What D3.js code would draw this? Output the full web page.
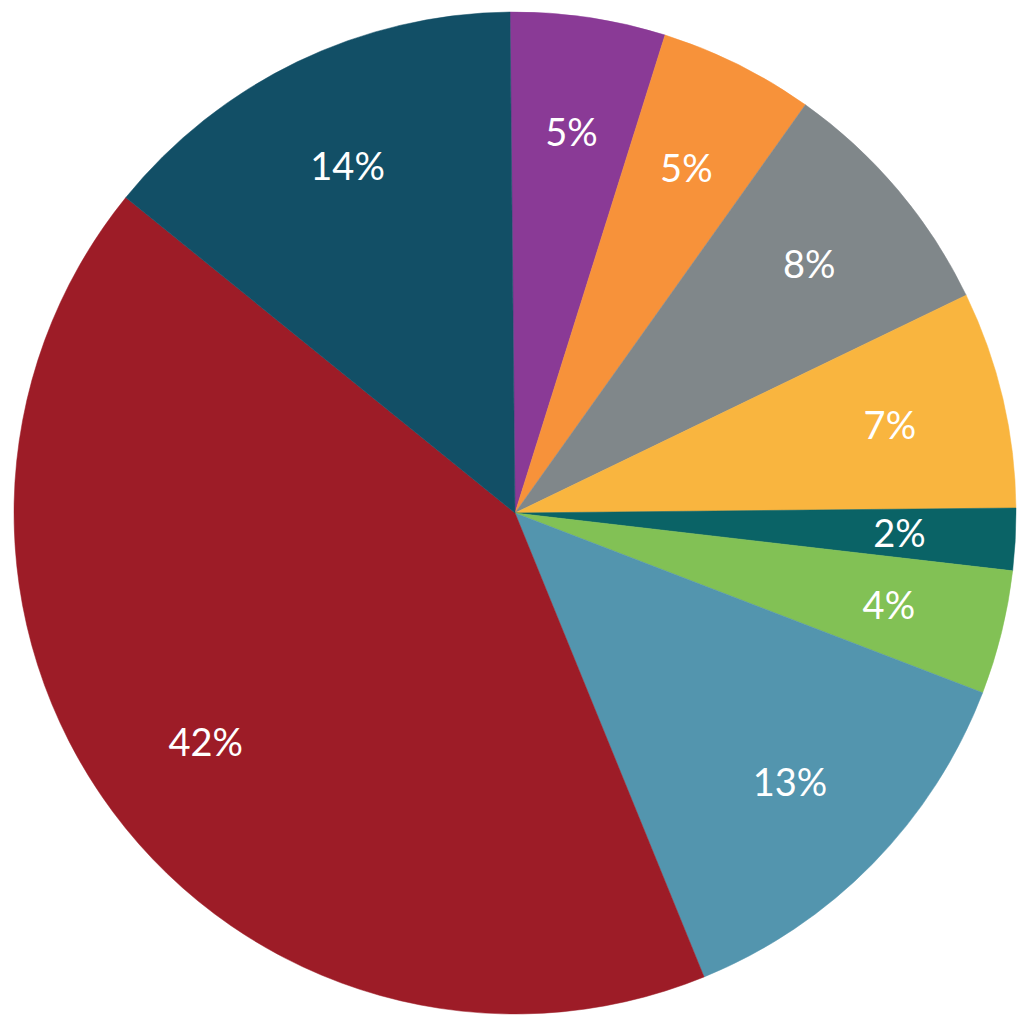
<!DOCTYPE html>
<html>
<head>
<meta charset="utf-8">
<script src="https://cdn.jsdelivr.net/npm/d3@7"></script>
<style>
  body { margin: 0; background: #fff; }
  text { font-family: Lato, "Open Sans", sans-serif; }
</style>
</head>
<body>
<svg id="pie"></svg>
<script>

// slices clockwise from 12 o'clock
var values = [5, 5, 8, 7, 2, 4, 13, 42, 14];
var colors = ['#8A3A96', '#F7923A', '#80878A', '#F9B53F', '#0A6366',
              '#82C155', '#5395AE', '#9D1C27', '#124F66'];

var width = 1028, height = 1029;
var cx = 515, cy = 513, radius = 501;

var svg = d3.select('#pie')
    .attr('width', width)
    .attr('height', height);

var g = svg.append('g')
    .attr('transform', 'translate(' + cx + ',' + cy + ')');

var pie = d3.pie()
    .sort(null)
    .startAngle(-0.01)
    .endAngle(2 * Math.PI - 0.01)
    .value(function(d) { return d; });

var arc = d3.arc()
    .innerRadius(0)
    .outerRadius(radius);

var labelArc = d3.arc()
    .innerRadius(385)
    .outerRadius(385);

g.selectAll('path')
    .data(pie(values))
    .enter()
    .append('path')
    .attr('d', arc)
    .attr('fill', function(d, i) { return colors[i]; })
    .attr('stroke', function(d, i) { return colors[i]; })
    .attr('stroke-width', 0.5);

g.selectAll('text')
    .data(pie(values))
    .enter()
    .append('text')
    .attr('transform', function(d) { return 'translate(' + labelArc.centroid(d) + ')'; })
    .attr('text-anchor', 'middle')
    .attr('dy', '0.36em')
    .attr('fill', '#fff')
    .attr('font-size', 38)
    .text(function(d) { return d.data + '%'; });

</script>
</body>
</html>
